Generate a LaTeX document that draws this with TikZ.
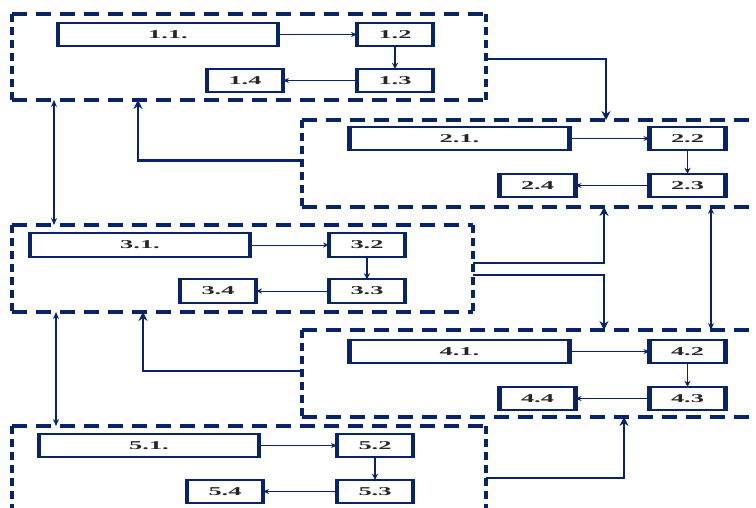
\documentclass[tikz,border=0pt]{standalone}
\usepackage{fontspec}
\setmainfont{Liberation Serif}
\usetikzlibrary{arrows.meta}
\definecolor{navy}{RGB}{8,36,102}
\newcommand{\boxlbl}[1]{\scalebox{2.2}[1]{#1}}
\tikzset{
  stagebox/.style={draw=navy, line width=2pt, fill=white, inner sep=0pt, outer sep=0pt,
    minimum height=23.5pt, font=\bfseries\fontsize{12}{12}\selectfont, text=black!85},
  longbox/.style={stagebox, minimum width=220pt},
  shortbox/.style={stagebox, minimum width=76pt},
  boxside/.style={draw=navy, line width=4.2pt, shorten <=-1pt, shorten >=-1pt},
  grp/.style={inner sep=0pt, outer sep=0pt, draw=none},
  hdash/.style={draw=navy, line width=3.2pt, dash pattern=on 15pt off 9pt},
  vdash/.style={draw=navy, line width=3.6pt, dash pattern=on 8pt off 5pt},
  thin/.style={draw=navy, line width=1pt, -{Stealth[length=6pt,width=5pt]}},
  thinv/.style={draw=navy, line width=1.8pt, -{Stealth[length=6pt,width=6pt]}},
  dbl/.style={draw=navy, line width=1.3pt, {Stealth[length=7pt,width=6pt]}-{Stealth[length=7pt,width=6pt]}},
  big/.style={draw=navy, line width=2.8pt, -{Stealth[length=9pt,width=9pt]}}
}
\begin{document}
\begin{tikzpicture}[x=1pt,y=-1pt]
\clip (0,0) rectangle (756,507);
\fill[white] (0,0) rectangle (756,507);
% group frames
\node[grp, minimum width=474pt, minimum height=86pt] (g1) at (249,57) {};
\node[grp, minimum width=468pt, minimum height=87pt] (g2) at (536,163.5) {};
\node[grp, minimum width=461pt, minimum height=87pt] (g3) at (242.5,268.5) {};
\node[grp, minimum width=468pt, minimum height=87pt] (g4) at (536,373.5) {};
\node[grp, minimum width=474pt, minimum height=104pt] (g5) at (249,478) {};
\foreach \g in {g1,g2,g3,g4,g5}{
  \draw[hdash] (\g.north west) -- (\g.north east);
  \draw[hdash] (\g.south west) -- (\g.south east);
  \draw[vdash] (\g.north west) -- (\g.south west);
  \draw[vdash] (\g.north east) -- (\g.south east);
}
% boxes
\node[longbox] (b11) at (168,34.5) {\boxlbl{1.1.}};
\node[shortbox] (b12) at (395,34.5) {\boxlbl{1.2}};
\node[shortbox] (b13) at (395,80.5) {\boxlbl{1.3}};
\node[shortbox] (b14) at (245,80.5) {\boxlbl{1.4}};
\node[longbox] (b21) at (459.5,138.5) {\boxlbl{2.1.}};
\node[shortbox] (b22) at (687.5,138.5) {\boxlbl{2.2}};
\node[shortbox] (b23) at (687.5,185.5) {\boxlbl{2.3}};
\node[shortbox] (b24) at (537.5,185.5) {\boxlbl{2.4}};
\node[longbox] (b31) at (140,245) {\boxlbl{3.1.}};
\node[shortbox] (b32) at (367,245) {\boxlbl{3.2}};
\node[shortbox] (b33) at (367,291) {\boxlbl{3.3}};
\node[shortbox] (b34) at (218,291) {\boxlbl{3.4}};
\node[longbox] (b41) at (459.5,351.5) {\boxlbl{4.1.}};
\node[shortbox] (b42) at (687.5,351.5) {\boxlbl{4.2}};
\node[shortbox] (b43) at (687.5,398.5) {\boxlbl{4.3}};
\node[shortbox] (b44) at (537.5,398.5) {\boxlbl{4.4}};
\node[longbox] (b51) at (149,445.5) {\boxlbl{5.1.}};
\node[shortbox] (b52) at (375,445.5) {\boxlbl{5.2}};
\node[shortbox] (b53) at (375,491.5) {\boxlbl{5.3}};
\node[shortbox] (b54) at (225,491.5) {\boxlbl{5.4}};
% heavier side borders of the boxes
\foreach \i in {1,...,5}{
  \foreach \j in {1,...,4}{
    \draw[boxside] (b\i\j.north west) -- (b\i\j.south west);
    \draw[boxside] (b\i\j.north east) -- (b\i\j.south east);
  }
}
% inner arrows
\foreach \i in {1,...,5}{
  \draw[thin] (b\i1.east) -- (b\i2.west);
  \draw[thinv] (b\i2.south) -- (b\i3.north);
  \draw[thin] (b\i3.west) -- (b\i4.east);
}
% connector columns
\coordinate (a1) at (606,0);
\coordinate (a2) at (138,0);
\coordinate (a3) at (54,0);
\coordinate (a4) at (604,0);
\coordinate (a5) at (711,0);
\coordinate (a6) at (143,0);
\coordinate (a7) at (56,0);
\coordinate (a8) at (624,0);
% connectors between groups
\draw[big] ([yshift=-2pt]g1.east) -| (g2.north -| a1);
\draw[big] ([yshift=3pt]g2.west) -| (g1.south -| a2);
\draw[dbl] (g1.south -| a3) -- (g3.north -| a3);
\draw[big] ([yshift=5.5pt]g3.east) -| (g2.south -| a4);
\draw[big] ([yshift=-6.5pt]g3.east) -| (g4.north -| a4);
\draw[dbl] (g2.south -| a5) -- (g4.north -| a5);
\draw[big] ([yshift=2.5pt]g4.west) -| (g3.south -| a6);
\draw[dbl] (g3.south -| a7) -- (g5.north -| a7);
\draw[big] (g5.east) -| (g4.south -| a8);
\end{tikzpicture}
\end{document}
